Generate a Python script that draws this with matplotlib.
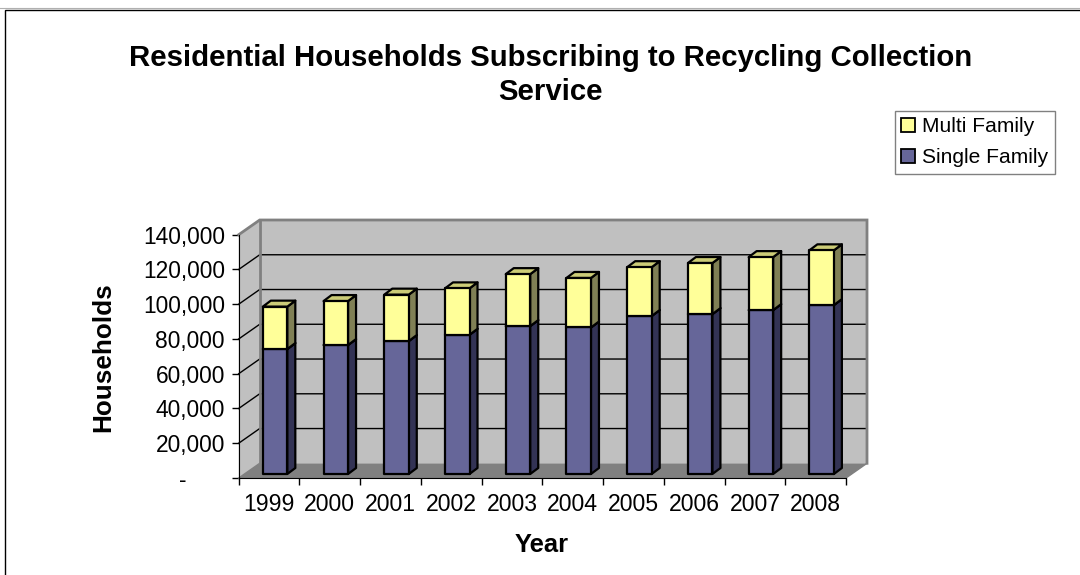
import matplotlib.pyplot as plt
from matplotlib.lines import Line2D
from matplotlib.patches import Patch, Polygon, Rectangle

years = ["1999", "2000", "2001", "2002", "2003", "2004", "2005", "2006", "2007", "2008"]
single_family = [71900, 74200, 76500, 80100, 85100, 84300, 90900, 92000, 94300, 97200]
multi_family = [24400, 25300, 26700, 26700, 29900, 28500, 28100, 29400, 30500, 31500]
y_ticks = [0, 20000, 40000, 60000, 80000, 100000, 120000, 140000]

W, H = 1080, 575
LEFT, RIGHT, BOTTOM, TOP = 238.7, 846.0, 478.0, 234.7


def main():
    plt.rcParams["font.family"] = ["Liberation Sans", "DejaVu Sans"]
    fig = plt.figure(figsize=(W / 100, H / 100), dpi=100)
    fig.add_artist(Line2D([0, 1], [1 - 8.2 / H] * 2, transform=fig.transFigure,
                          color="#b0b0b0", lw=0.8))
    fig.add_artist(Rectangle((5.2 / W, -0.01), 1.1, 1.01 - 9.5 / H, transform=fig.transFigure,
                             fill=False, ec="black", lw=1))

    ax = fig.add_axes([LEFT / W, 1 - BOTTOM / H, (RIGHT - LEFT) / W, (BOTTOM - TOP) / H])
    ax.set_xlim(0, 10)
    ax.set_ylim(0, 140000)
    ax.patch.set_visible(False)
    ux = 10 / (RIGHT - LEFT)
    uy = 140000 / (BOTTOM - TOP)

    # 3d depth offsets, in pixels
    def sheared(points, dx, dy):
        return [(x + dx * ux, y + dy * uy) for x, y in points]

    def poly(points, **kw):
        kw.setdefault("lw", 0)
        ax.add_patch(Polygon(points, closed=True, clip_on=False, **kw))

    wall_dx, wall_dy = 21, 14.7
    back = sheared([(0, 0), (10, 0), (10, 140000), (0, 140000)], wall_dx, wall_dy)
    poly(back, fc="#c0c0c0", zorder=1)
    poly([(0, 0), back[0], back[3], (0, 140000)], fc="#c0c0c0", zorder=1)
    poly([(0, 0), (10, 0), back[1], back[0]], fc="#808080", zorder=1)

    for v in y_ticks[1:-1]:
        ax.plot([0, back[0][0], back[1][0]], [v, v + wall_dy * uy, v + wall_dy * uy],
                color="black", lw=1, zorder=2, clip_on=False)
    # back wall frame
    ax.plot([0, back[3][0], back[2][0], back[1][0]],
            [140000, back[3][1], back[2][1], back[1][1]],
            color="#808080", lw=2, zorder=2, clip_on=False, solid_joinstyle="miter")
    ax.plot([back[3][0], back[0][0]], [back[3][1], back[0][1]], color="#808080", lw=2,
            zorder=2, clip_on=False)
    ax.plot([0, back[0][0]], [0, back[0][1]], color="#808080", lw=1, zorder=2, clip_on=False)
    ax.plot([10, back[1][0]], [0, back[1][1]], color="#808080", lw=1, zorder=2, clip_on=False)

    # bars
    bar_w = 24.5 * ux
    off_x, off_y = 6.0, 4.0
    side_x, side_y = 8.0, 6.0
    series = [
        (single_family, [0] * len(years), "#666699", "#333355", "#52527a"),
        (multi_family, single_family, "#ffff99", "#808055", "#cccc77"),
    ]
    z = 3
    for i in range(len(years)):
        for values, bases, front, side, top in series:
            x0 = i + 0.5 - bar_w / 2
            x1 = x0 + bar_w
            y0 = bases[i]
            y1 = y0 + values[i]
            pts = sheared([(x0, y0), (x1, y0), (x1, y1), (x0, y1)], off_x, off_y)
            edge = dict(ec="black", lw=1.6, joinstyle="round")
            poly([pts[1], sheared([pts[1]], side_x, side_y)[0],
                  sheared([pts[2]], side_x, side_y)[0], pts[2]], fc=side, zorder=z, **edge)
            poly([pts[3], pts[2], sheared([pts[2]], side_x, side_y)[0],
                  sheared([pts[3]], side_x, side_y)[0]], fc=top, zorder=z, **edge)
            poly(pts, fc=front, zorder=z, **edge)
            z += 1

    # axes
    ax.spines["top"].set_visible(False)
    ax.spines["right"].set_visible(False)
    ax.spines["left"].set_zorder(50)
    ax.spines["bottom"].set_zorder(50)
    ax.set_yticks(y_ticks)
    ax.set_yticklabels(["-      "] + [f"{v:,}" for v in y_ticks[1:]], fontsize=16.4)
    ax.set_xticks(range(11))
    ax.set_xticklabels([])
    ax.set_xticks([i + 0.5 for i in range(len(years))], minor=True)
    ax.set_xticklabels(years, minor=True, fontsize=16.6)
    ax.tick_params(axis="x", which="minor", length=0, pad=11)
    ax.tick_params(axis="x", which="major", length=5, width=1)
    ax.tick_params(axis="y", length=5, width=1, pad=5)

    fig.text(550.5 / W, 1 - 58.5 / H, "Residential Households Subscribing to Recycling Collection",
             ha="center", va="center", fontsize=21.2, fontweight="bold")
    fig.text(550.5 / W, 1 - 92.5 / H, "Service", ha="center", va="center", fontsize=21.2,
             fontweight="bold")
    fig.text(541.5 / W, 1 - 544.5 / H, "Year", ha="center", va="center", fontsize=18.4,
             fontweight="bold")
    fig.text(103 / W, 1 - 357 / H, "Households", ha="center", va="center", rotation=90,
             fontsize=18.8, fontweight="bold")

    handles = [Patch(fc="#ffff99", ec="black", lw=1.3, label="Multi Family"),
               Patch(fc="#666699", ec="black", lw=1.3, label="Single Family")]
    leg = fig.legend(handles=handles, loc="upper left", bbox_to_anchor=(895 / W, 1 - 111 / H),
                     borderaxespad=0, fontsize=15.1, fancybox=False, framealpha=1,
                     edgecolor="#808080", handlelength=0.65, handleheight=0.65,
                     handletextpad=0.36, labelspacing=0.58, borderpad=0.3)
    leg.get_frame().set_linewidth(1)

    fig.savefig("out.png", dpi=100)


if __name__ == "__main__":
    main()
